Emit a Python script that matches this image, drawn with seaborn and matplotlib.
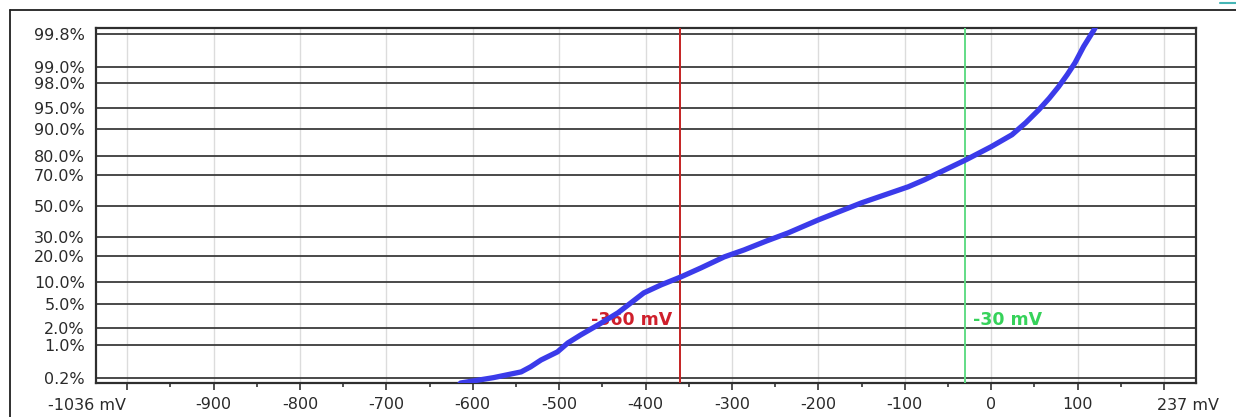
import numpy as np
import pandas as pd
import matplotlib
matplotlib.use("Agg")
import matplotlib.pyplot as plt
import seaborn as sns
from statistics import NormalDist
from matplotlib.lines import Line2D

# ---------------- data ----------------
potential_mv = [-625, -614, -576, -544, -533, -521, -502, -490, -475, -455, -432,
                -417, -402, -382, -359, -336, -309, -286, -260, -235, -200, -150,
                -96, -77, -58, -29, 0, 24, 40, 55, 67, 78, 88, 97, 107, 119, 124]
cumulative_pct = [0.08, 0.15, 0.20, 0.27, 0.35, 0.49, 0.72, 1.08, 1.53, 2.30, 3.65,
                  5.2, 7.24, 9.27, 11.7, 14.9, 19.6, 23.0, 27.8, 32.5, 40.7, 52.0,
                  62.5, 66.9, 71.6, 78.0, 83.9, 88.3, 91.8, 94.6, 96.4, 97.7, 98.6,
                  99.17, 99.62, 99.84, 99.9]

prob_ticks = [0.2, 1.0, 2.0, 5.0, 10.0, 20.0, 30.0, 50.0, 70.0, 80.0, 90.0, 95.0, 98.0, 99.0, 99.8]
prob_labels = [f"{p:.1f}%" for p in prob_ticks]

x_major = list(range(-1000, 201, 100))
x_minor = list(range(-950, 151, 100))
x_min, x_max = -1036, 237

thresholds = [-360, -30]
threshold_labels = ["-360 mV", "-30 mV"]
line_colors = ["#c42323", "#62dc86"]
text_colors = ["#cf1f2b", "#36d25a"]

df = pd.DataFrame({"mv": potential_mv, "pct": cumulative_pct})

# ---------------- normal probability scale ----------------
_nd = NormalDist()
_ppf = np.vectorize(_nd.inv_cdf, otypes=[float])
_cdf = np.vectorize(_nd.cdf, otypes=[float])


def fwd(p):
    p = np.clip(np.asarray(p, dtype=float) / 100.0, 1e-9, 1 - 1e-9)
    return _ppf(p)


def inv(z):
    return _cdf(np.asarray(z, dtype=float)) * 100.0


# ---------------- figure ----------------
sns.set_style("white")
plt.rcParams["font.family"] = ["DejaVu Sans"]

W, H = 1236, 417
fig = plt.figure(figsize=(W / 100, H / 100), dpi=100)
fig.patch.set_facecolor("white")
ax = fig.add_axes([96 / W, 1 - 383 / H, (1196 - 96) / W, (383 - 28.5) / H])

ax.set_yscale("function", functions=(fwd, inv))

sns.lineplot(data=df, x="mv", y="pct", sort=False, estimator=None, ax=ax,
             color="#3b3bea", linewidth=3.8, zorder=5, solid_capstyle="round")

ax.set_xlim(x_min, x_max)
ax.set_ylim(inv(-2.968), inv(2.970))

ax.set_yticks(prob_ticks)
ax.set_yticklabels(prob_labels)
ax.yaxis.set_minor_locator(matplotlib.ticker.NullLocator())
ax.set_xticks(x_major)
# the end ticks' labels are taken over by the axis-limit labels
ax.set_xticklabels(["" if v in (x_major[0], x_major[-1]) else str(v) for v in x_major])
ax.set_xticks(x_minor, minor=True)

ax.tick_params(axis="y", length=0, pad=8, labelsize=11.5, labelcolor="#2a2a2a")
ax.tick_params(axis="x", which="major", length=5, width=1.2, color="#333333",
               pad=5, labelsize=11.5, labelcolor="#2a2a2a", direction="out")
ax.tick_params(axis="x", which="minor", length=3, width=1.2, color="#333333",
               direction="out")
ax.xaxis.set_ticks_position("bottom")

ax.grid(False)
for v in x_major:
    ax.axvline(v, color="#dcdcdc", linewidth=1.0, zorder=0)
for p in prob_ticks:
    ax.axhline(p, color="#3c3c3c", linewidth=1.3, zorder=1)

for s in ax.spines.values():
    s.set_color("#2e2e2e")
    s.set_linewidth(1.6)

ax.set_xlabel("")
ax.set_ylabel("")

# threshold lines and labels
label_pct = inv(-1.911)
for v, lab, lc, tc, side in zip(thresholds, threshold_labels, line_colors, text_colors, [-1, 1]):
    ax.axvline(v, color=lc, linewidth=1.4, zorder=3)
    ax.annotate(lab, xy=(v, label_pct), xycoords="data",
                xytext=(side * 8, 0), textcoords="offset pixels",
                ha="right" if side < 0 else "left", va="center",
                color=tc, zorder=2, fontsize=12.5, fontweight="bold")

# axis limit labels
ax.annotate(f"{x_min} mV", xy=(-1000, 0), xycoords=("data", "axes fraction"),
            xytext=(-1, -22), textcoords="offset pixels", ha="right", va="center",
            fontsize=11.5, color="#2a2a2a", annotation_clip=False, zorder=10)
ax.annotate(f"{x_max} mV", xy=(192, 0), xycoords=("data", "axes fraction"),
            xytext=(0, -22), textcoords="offset pixels", ha="left", va="center",
            fontsize=11.5, color="#2a2a2a", annotation_clip=False, zorder=10)

# outer frame pieces
fig.add_artist(Line2D([10 / W, 1.0], [1 - 10 / H, 1 - 10 / H], transform=fig.transFigure,
                      color="#202020", linewidth=1.3))
fig.add_artist(Line2D([10 / W, 10 / W], [0.0, 1 - 10 / H], transform=fig.transFigure,
                      color="#202020", linewidth=1.3))
fig.add_artist(Line2D([1220 / W, 1.0], [1 - 3 / H, 1 - 3 / H], transform=fig.transFigure,
                      color="#45b5b5", linewidth=1.5))

fig.savefig("out.png", dpi=100, facecolor="white")
